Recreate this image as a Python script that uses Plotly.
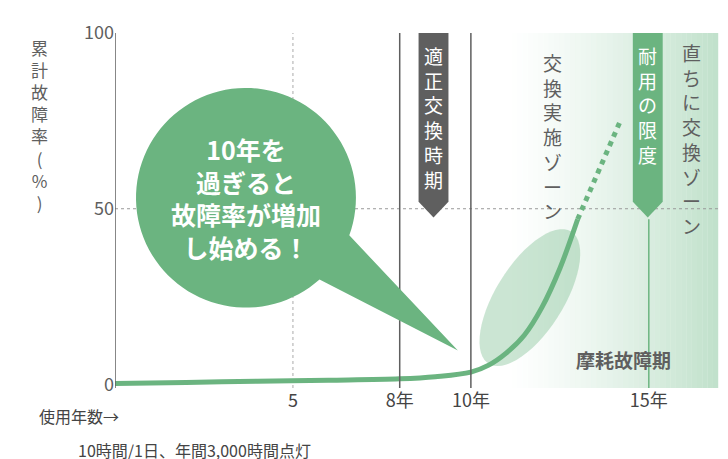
import plotly.graph_objects as go
import numpy as np

years_solid = [0, 2, 4, 6, 8, 9, 10, 10.5, 11, 11.5, 12, 12.5, 13]
rate_solid = [0.3, 0.6, 0.9, 1.2, 1.6, 2.2, 3.5, 5.5, 9, 14, 22, 33, 47]
years_dash = [13, 13.6, 14.2]
rate_dash = [47, 61, 75]
x_tickvals = [5, 8, 10, 15]
x_ticktext = ["5", "8年", "10年", "15年"]
y_tickvals = [0, 50, 100]
y_ticktext = ["0", "50", "100"]

G = "#6bb480"
DG = "#5f5f5f"
F = "Noto Sans CJK JP"

fig = go.Figure()
fig.add_trace(go.Scatter(x=years_solid, y=rate_solid, mode="lines",
                         line=dict(color=G, width=5, shape="spline"), hoverinfo="skip"))
fig.add_trace(go.Scatter(x=years_dash, y=rate_dash, mode="lines",
                         line=dict(color=G, width=5, dash="dot"), hoverinfo="skip"))

shapes = []
n = 40
x0g, x1g = 11.0, 16.95
for i in range(n):
    a = x0g + (x1g - x0g) * i / n
    b = x0g + (x1g - x0g) * (i + 1) / n
    op = ((i + 0.5) / n) ** 1.3 * 0.55
    shapes.append(dict(type="rect", xref="x", yref="y", x0=a, x1=b, y0=-1, y1=100,
                       fillcolor="#8cc8a0", opacity=op, line_width=0, layer="below"))
shapes.append(dict(type="line", x0=0, x1=16.95, y0=50, y1=50, line=dict(color="#999", width=1, dash="dot"), layer="below"))
shapes.append(dict(type="line", x0=5, x1=5, y0=-1, y1=100, line=dict(color="#aaa", width=1, dash="dot"), layer="below"))
for xv in [8, 10]:
    shapes.append(dict(type="line", x0=xv, x1=xv, y0=-1, y1=100, line=dict(color=DG, width=1.5)))
shapes.append(dict(type="line", x0=0, x1=0, y0=-1, y1=100, line=dict(color=DG, width=1.5)))
shapes.append(dict(type="line", x0=15, x1=15, y0=47, y1=-1, line=dict(color=G, width=1.5)))
for xc, col in [(8.95, DG), (14.97, G)]:
    w = 0.42
    shapes.append(dict(type="path", path=f"M {xc-w},100 L {xc+w},100 L {xc+w},52 L {xc},47.5 L {xc-w},52 Z",
                       fillcolor=col, line_width=0))
t = np.linspace(0, 2 * np.pi, 60)
cxp, cyp, ra, rb, ang = 522, 290, 78, 34, np.deg2rad(-58)
px = cxp + ra * np.cos(t) * np.cos(ang) - rb * np.sin(t) * np.sin(ang)
py = cyp + ra * np.cos(t) * np.sin(ang) + rb * np.sin(t) * np.cos(ang)
ex = (px - 107) / 35.6
ey = (377 - py) / 3.52
shapes.append(dict(type="path", path="M " + " L ".join(f"{a:.3f},{b:.3f}" for a, b in zip(ex, ey)) + " Z",
                   fillcolor=G, opacity=0.35, line_width=0))
cx, cy, r = 238, 190, 110
ang_s, ang_e = np.deg2rad(20), np.deg2rad(48)
tt = np.linspace(ang_e, ang_s + 2 * np.pi, 100)
bxp = cx + r * np.cos(tt); byp = cy + r * np.sin(tt)
bxp = np.append(bxp, 450); byp = np.append(byp, 343)
bxd = (bxp - 107) / 35.6; byd = (377 - byp) / 3.52
shapes.append(dict(type="path", path="M " + " L ".join(f"{a:.3f},{b:.3f}" for a, b in zip(bxd, byd)) + " Z",
                   fillcolor=G, line_width=0))
fig.update_layout(shapes=shapes)

def vert(s):
    return "<br>".join(s)

ann = []
ann.append(dict(x=8.95, y=98, text=vert("適正交換時期"), showarrow=False, yanchor="top",
                font=dict(family=F, size=19, color="white"), align="center"))
ann.append(dict(x=14.97, y=98, text=vert("耐用の限度"), showarrow=False, yanchor="top",
                font=dict(family=F, size=19, color="white"), align="center"))
ann.append(dict(x=12.3, y=96, text=vert("交換実施ゾーン"), showarrow=False, yanchor="top",
                font=dict(family=F, size=19, color=DG), align="center"))
ann.append(dict(x=16.2, y=99, text=vert("直ちに交換ゾーン"), showarrow=False, yanchor="top",
                font=dict(family=F, size=19, color=DG), align="center"))
ann.append(dict(x=(cx - 107) / 35.6, y=(377 - cy) / 3.52, text="<b>10年を<br>過ぎると<br>故障率が増加<br>し始める！</b>",
                showarrow=False, font=dict(family=F, size=25, color="white"), align="center"))
ann.append(dict(x=14.3, y=7, text="<b>摩耗故障期</b>", showarrow=False,
                font=dict(family=F, size=19, color=DG)))
ann.append(dict(xref="paper", yref="paper", x=-0.125, xanchor="center", y=1.0, yanchor="top",
                text=vert("累計故障率") + "<br>(<br>%<br>)",
                showarrow=False, font=dict(family=F, size=17, color=DG)))
ann.append(dict(xref="paper", yref="paper", x=-0.06, y=-0.04, yanchor="top", xanchor="center", text="使用年数→",
                showarrow=False, font=dict(family=F, size=16, color="#444")))
ann.append(dict(xref="paper", yref="paper", x=-0.065, y=-0.134, yanchor="top", xanchor="left", text="10時間/1日、年間3,000時間点灯",
                showarrow=False, font=dict(family=F, size=16, color="#444")))
fig.update_layout(annotations=ann)

fig.update_layout(
    width=728, height=459, margin=dict(l=107, r=16, t=25, b=78.5, autoexpand=False),
    plot_bgcolor="white", paper_bgcolor="white", showlegend=False,
    xaxis=dict(range=[0, 17], showgrid=False, zeroline=False, showline=False, automargin=False,
               tickvals=x_tickvals, ticktext=x_ticktext, ticks="",
               tickfont=dict(family=F, size=18, color="#444")),
    yaxis=dict(range=[-1, 100], showgrid=False, zeroline=False, showline=False, automargin=False,
               tickvals=y_tickvals, ticktext=y_ticktext, ticks="",
               tickfont=dict(family=F, size=18, color=DG)),
)
fig.write_html("out.html")
